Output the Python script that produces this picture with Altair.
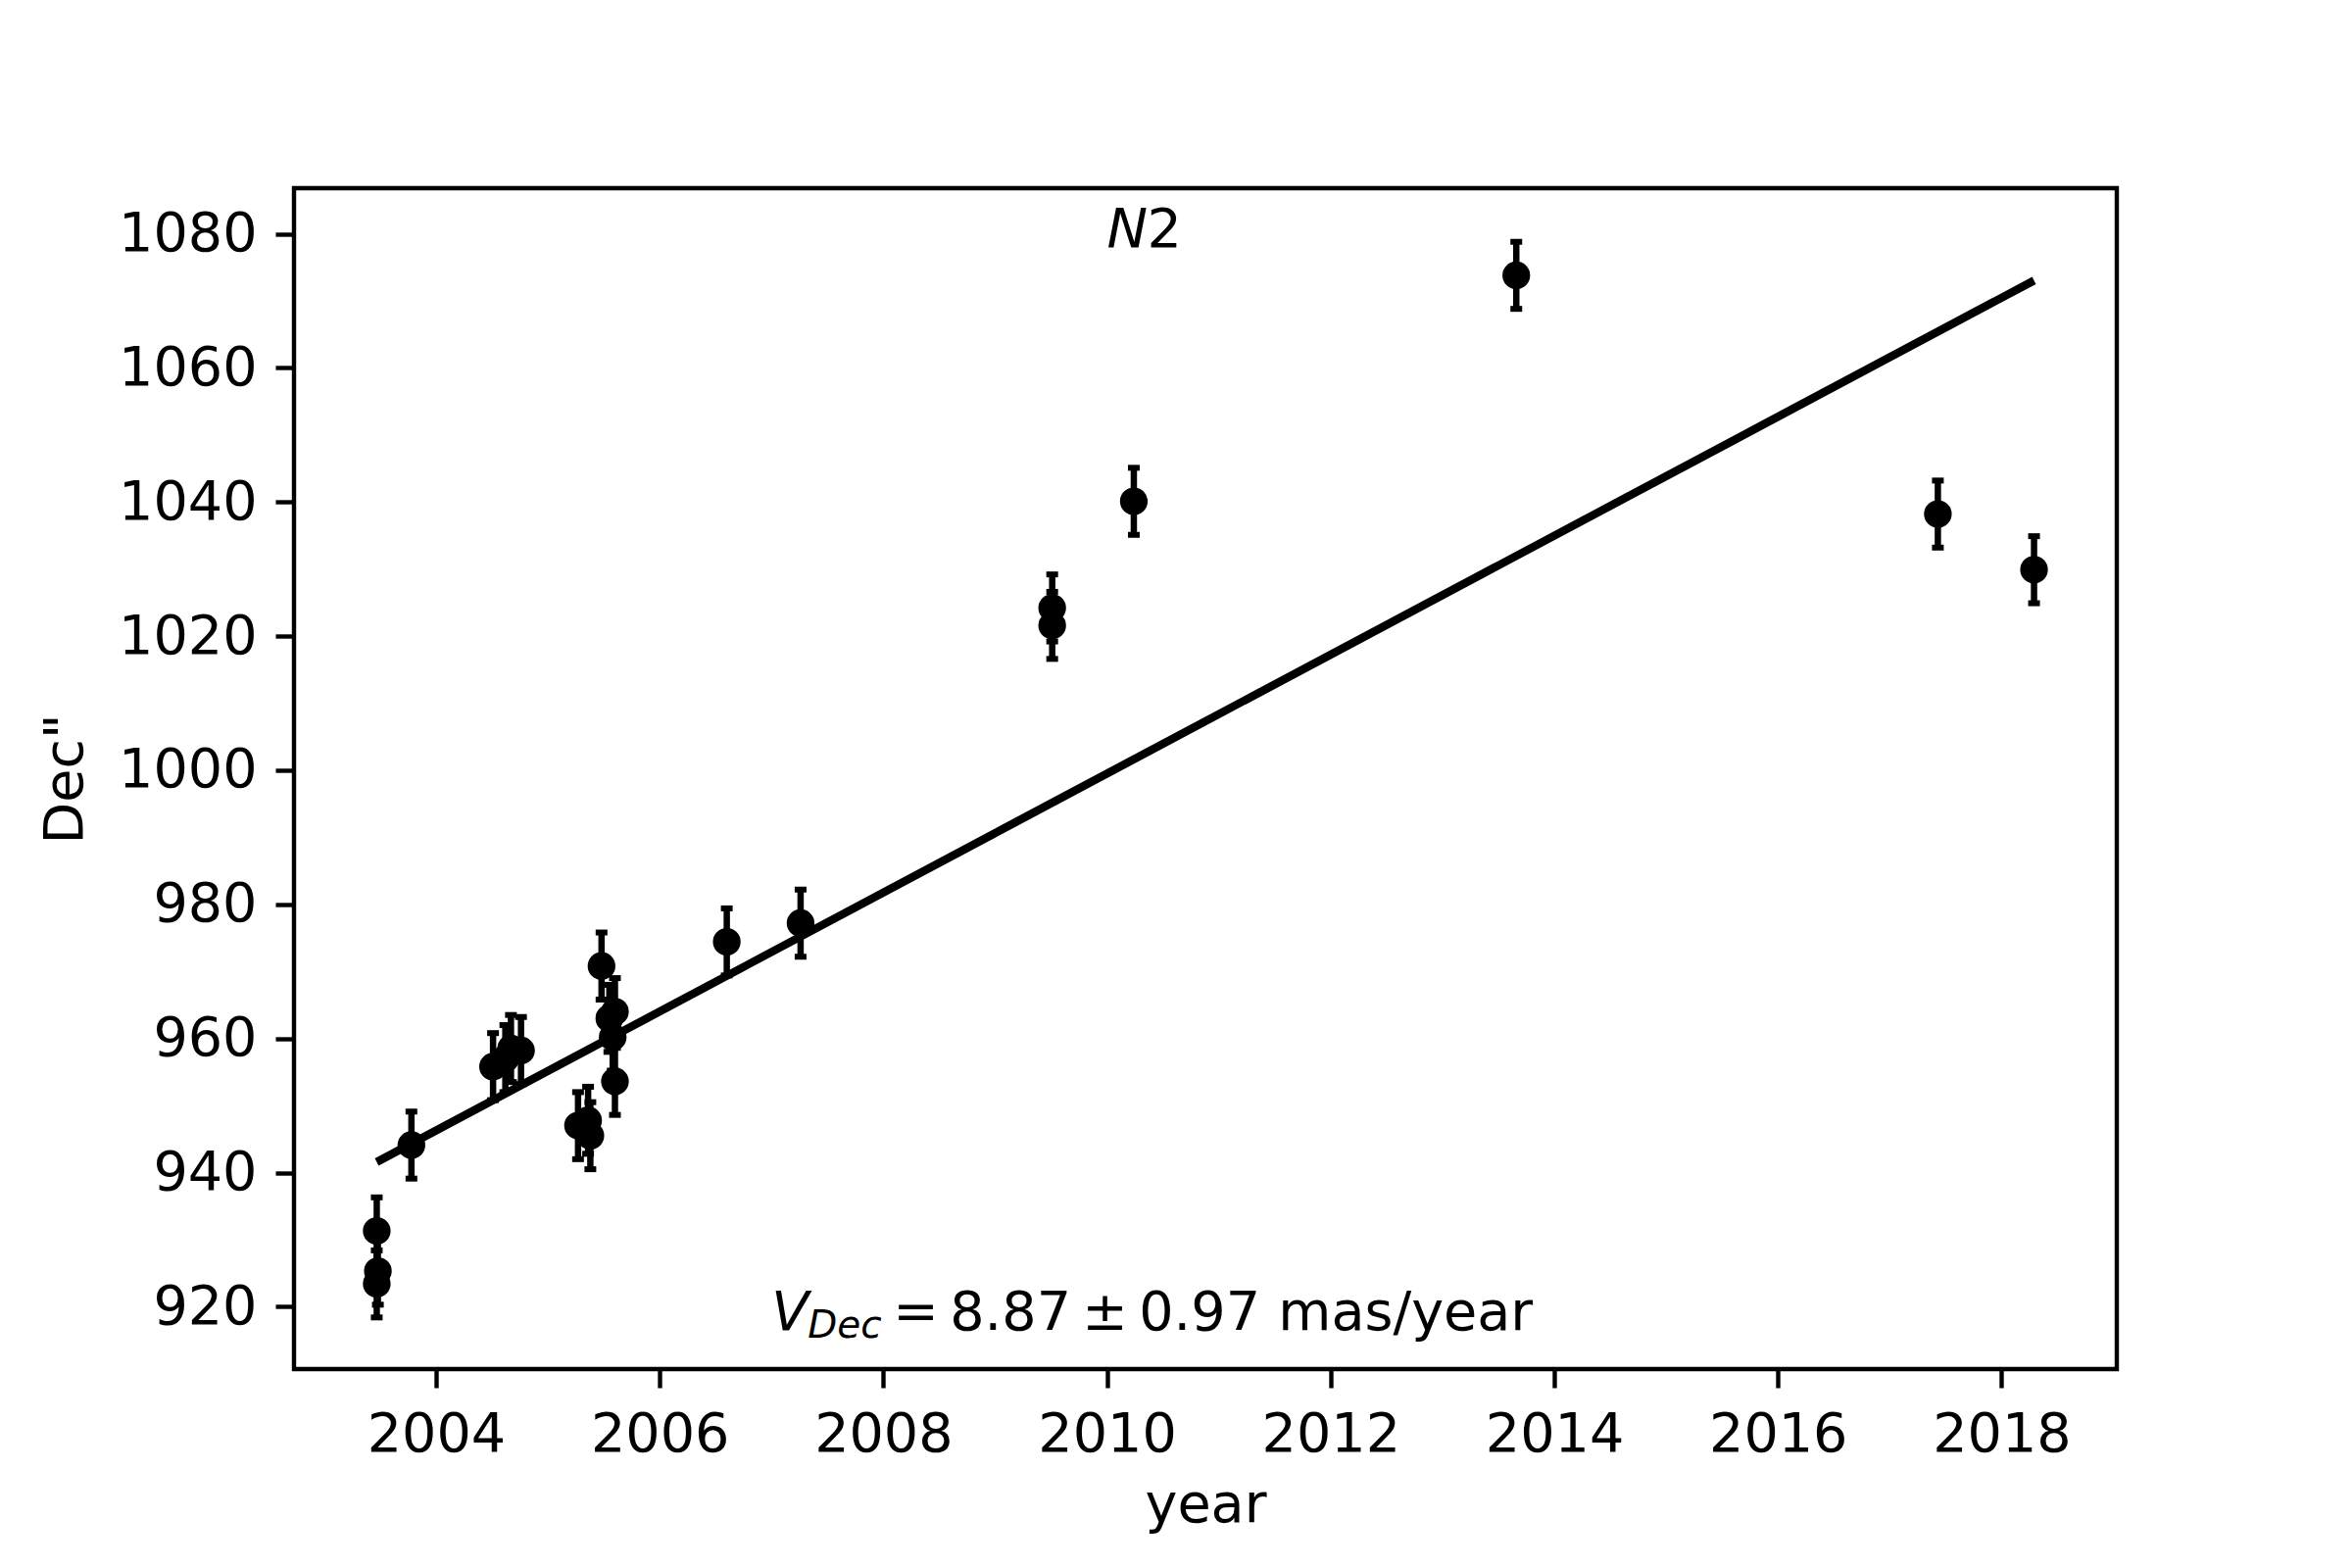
import altair as alt
import pandas as pd

# ---- data ----
years = [2003.47, 2003.48, 2003.47, 2003.78, 2004.51, 2004.62, 2004.67, 2004.76,
         2005.27, 2005.36, 2005.38, 2005.48, 2005.55, 2005.60, 2005.58, 2005.60,
         2006.60, 2007.26, 2009.51, 2009.51, 2010.24, 2013.66, 2017.43, 2018.29]
decs = [931.3, 925.3, 923.4, 944.1, 955.8, 957.0, 958.5, 958.2,
        947.0, 947.8, 945.5, 970.8, 963.0, 964.0, 960.2, 953.6,
        974.4, 977.2, 1024.2, 1021.6, 1040.1, 1073.8, 1038.2, 1029.9]
errs = [5.0, 5.0, 5.0, 5.0, 5.0, 5.0, 5.0, 5.0,
        5.0, 5.0, 5.0, 5.0, 5.0, 5.0, 5.0, 5.0,
        5.0, 5.0, 5.0, 5.0, 5.0, 5.0, 5.0, 5.0]

fit_slope = 8.87          # mas/year
fit_ref_year = 2003.45
fit_ref_value = 941.4

x_ticks = [2004, 2006, 2008, 2010, 2012, 2014, 2016, 2018]
y_ticks = [920, 940, 960, 980, 1000, 1020, 1040, 1060, 1080]
x_domain = [2002.73, 2019.03]
y_domain = [910.7, 1086.8]

# annotation pieces: (text, x-offset in px from anchor, italic, size, dy)
v_pieces = [("V", 0, True, 55.6, 0), ("Dec", 37, True, 39, 8.5),
            ("=", 124, False, 55.6, 0), ("8.87", 182, False, 55.6, 0),
            ("±", 317, False, 55.6, 0), ("0.97", 375, False, 55.6, 0),
            ("mas/year", 517, False, 55.6, 0)]
n_pieces = [("N", 0, True, 55.6, 0), ("2", 41, False, 55.6, 0)]

FONT = "DejaVu Sans"
FS = 55.6

df = pd.DataFrame({"year": years, "dec": decs, "err": errs})
df["lo"] = df["dec"] - df["err"]
df["hi"] = df["dec"] + df["err"]

fit_x = [min(years), max(years)]
fit_df = pd.DataFrame({"year": fit_x,
                       "dec": [fit_ref_value + fit_slope * (v - fit_ref_year) for v in fit_x]})

xscale = alt.Scale(domain=x_domain, nice=False, zero=False)
yscale = alt.Scale(domain=y_domain, nice=False, zero=False)

xaxis = alt.Axis(values=x_ticks, format="d", title="year", labelPadding=20,
                 titleBaseline="alphabetic", titleY=155, labelOverlap=False)
yaxis = alt.Axis(values=y_ticks, format="d", title='Dec"', labelPadding=19,
                 titleAngle=270, titleBaseline="alphabetic", titleX=-217,
                 titleY=602.5, titleAlign="center", labelOverlap=False)

X = alt.X("year:Q", scale=xscale, axis=xaxis)
Y = alt.Y("dec:Q", scale=yscale, axis=yaxis)

bars = alt.Chart(df).mark_rule(color="black", strokeWidth=6.5).encode(
    x=X, y=alt.Y("lo:Q", scale=yscale, axis=yaxis), y2="hi:Q")
cap_lo = alt.Chart(df).mark_tick(color="black", orient="horizontal", size=12,
                                 thickness=6, opacity=1).encode(
    x=X, y=alt.Y("lo:Q", scale=yscale, axis=yaxis))
cap_hi = alt.Chart(df).mark_tick(color="black", orient="horizontal", size=12,
                                 thickness=6, opacity=1).encode(
    x=X, y=alt.Y("hi:Q", scale=yscale, axis=yaxis))
pts = alt.Chart(df).mark_circle(color="black", size=800, opacity=1).encode(x=X, y=Y)
line = alt.Chart(fit_df).mark_line(color="black", strokeWidth=8.3).encode(x=X, y=Y)

# annotations anchored in data coordinates
n2_df = pd.DataFrame({"year": [2010], "dec": [1078.0]})
v_df = pd.DataFrame({"year": [2007], "dec": [916.6]})


def pieces(anchor_df, items):
    out = []
    for txt, dx, ital, size, dy in items:
        kw = dict(text=txt, font=FONT, fontSize=size, dx=dx, dy=dy, align="left",
                  baseline="alphabetic", color="black")
        if ital:
            kw["fontStyle"] = "italic"
        out.append(alt.Chart(anchor_df).mark_text(**kw).encode(x=X, y=Y))
    return out


layers = [line, bars, cap_lo, cap_hi, pts] + pieces(n2_df, n_pieces) + pieces(v_df, v_pieces)

chart = alt.layer(*layers).properties(
    width=1860, height=1205,
    padding={"left": 292, "top": 184, "right": 200, "bottom": 180},
    autosize=alt.AutoSizeParams(type="none"),
    background="white",
).configure_axis(
    labelFont=FONT, labelFontSize=FS, titleFont=FONT, titleFontSize=FS,
    titleFontWeight="normal", labelColor="black", titleColor="black",
    domain=False, grid=False, tickColor="black", tickWidth=4.4, tickSize=19,
).configure_view(stroke="black", strokeWidth=4.4)

chart.save("out.html", embed_options={"renderer": "svg", "actions": False})
